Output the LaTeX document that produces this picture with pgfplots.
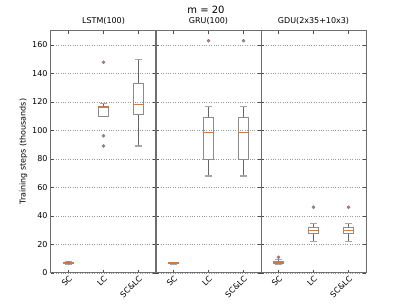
\documentclass[border=0pt]{standalone}
\usepackage{fontspec}
\setmainfont{DejaVu Sans}
\usepackage{pgfplots}
\pgfplotsset{compat=1.18}
\definecolor{mplorange}{RGB}{255,110,20}
\definecolor{boxgray}{RGB}{140,140,140}
\definecolor{framegray}{RGB}{110,110,110}
\definecolor{outfill}{RGB}{215,110,125}
\pgfplotsset{
  panel/.style={
    scale only axis, width=105pt, height=242pt,
    xmin=0.5, xmax=3.5, ymin=0, ymax=170,
    xtick={1,2,3}, xticklabels={SC,LC,SC\&LC},
    xticklabel style={rotate=45, anchor=north east, font=\fontsize{8}{9}\selectfont, inner sep=1.5pt},
    ytick={0,20,...,160},
    yticklabel style={font=\fontsize{8}{9}\selectfont},
    /pgf/number format/assume math mode=true,
    ymajorgrids, grid style={dotted, gray!80},
    tick align=inside, major tick length=3pt,
    tick style={black!70},
    axis line style={draw=framegray, line width=1pt},
    title style={font=\fontsize{8}{9}\selectfont, yshift=-3pt},
  },
  whisk/.style={draw=black!60, line width=0.7pt, no markers},
  capst/.style={draw=black!35, line width=1.2pt, no markers},
  boxst/.style={draw=boxgray, line width=0.9pt, no markers},
  medst/.style={draw=mplorange, line width=1pt, no markers},
  outst/.style={only marks, mark=*, mark size=1.5pt, mark options={fill=outfill, draw=gray, line width=0.5pt}},
}
% \bx{center}{lower whisker}{lower quartile}{median}{upper quartile}{upper whisker}
\newcommand\bx[6]{%
  \pgfmathsetmacro\bxL{#1-0.15}\pgfmathsetmacro\bxR{#1+0.15}%
  \pgfmathsetmacro\bxCL{#1-0.09}\pgfmathsetmacro\bxCR{#1+0.09}%
  \edef\bxtmp{%
    \noexpand\addplot[whisk] coordinates {(#1,#2)(#1,#3)};
    \noexpand\addplot[whisk] coordinates {(#1,#5)(#1,#6)};
    \noexpand\addplot[capst] coordinates {(\bxCL,#2)(\bxCR,#2)};
    \noexpand\addplot[capst] coordinates {(\bxCL,#6)(\bxCR,#6)};
    \noexpand\addplot[boxst] coordinates {(\bxL,#3)(\bxR,#3)(\bxR,#5)(\bxL,#5)(\bxL,#3)};
    \noexpand\addplot[medst] coordinates {(\bxL,#4)(\bxR,#4)};
  }\bxtmp
}
\begin{document}
\begin{tikzpicture}
\useasboundingbox (-51pt,-30.3pt) rectangle (356pt,272.7pt);
% LSTM
\begin{axis}[panel, at={(0pt,0pt)}, anchor=south west, title={LSTM(100)},
  ylabel={Training steps (thousands)}, ylabel style={font=\fontsize{8}{9}\selectfont, yshift=-2pt}]
\bx{1}{5.5}{6.2}{6.8}{7.3}{8.0}
\bx{2}{109.6}{110}{116.3}{116.8}{118.9}
\bx{3}{89}{111}{118}{132.7}{149.5}
\addplot[outst] coordinates {(1,7.0) (2,147.8) (2,96.2) (2,89)};
\end{axis}
% GRU
\begin{axis}[panel, at={(105pt,0pt)}, anchor=south west, title={GRU(100)}, yticklabels={}]
\bx{1}{5.8}{6.3}{6.6}{7.0}{7.3}
\bx{2}{68}{79.6}{98.3}{109.3}{117}
\bx{3}{68}{79.6}{98.3}{109.3}{117}
\addplot[outst] coordinates {(2,163) (3,163)};
\end{axis}
% GDU
\begin{axis}[panel, at={(210pt,0pt)}, anchor=south west, title={GDU(2x35+10x3)}, yticklabels={}]
\bx{1}{5.5}{6.3}{7.3}{8.0}{9.0}
\bx{2}{21.7}{27.3}{29.7}{31.5}{34.3}
\bx{3}{21.7}{27.3}{29.7}{31.5}{34.3}
\addplot[outst] coordinates {(1,10.8) (2,46) (3,46)};
\end{axis}
\node[font=\fontsize{10}{12}\selectfont] at (155pt,262.7pt) {m = 20};
\end{tikzpicture}
\end{document}
